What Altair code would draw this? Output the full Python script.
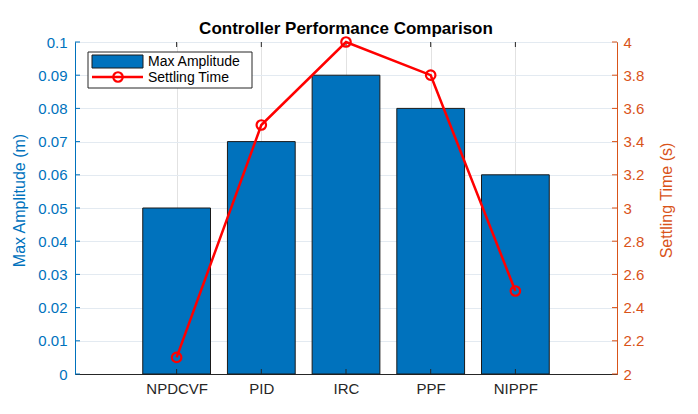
import altair as alt
import pandas as pd

categories = ["NPDCVF", "PID", "IRC", "PPF", "NIPPF"]
positions = [1, 2, 3, 4, 5]
max_amplitude = [0.05, 0.07, 0.09, 0.08, 0.06]
settling_time = [2.1, 3.5, 4.0, 3.8, 2.5]
left_ticks = [0, 0.01, 0.02, 0.03, 0.04, 0.05, 0.06, 0.07, 0.08, 0.09, 0.1]
right_ticks = [2.0, 2.2, 2.4, 2.6, 2.8, 3.0, 3.2, 3.4, 3.6, 3.8, 4.0]
legend_labels = ["Max Amplitude", "Settling Time"]

W, H = 542, 332
BLUE = "#0072BD"
ORANGE = "#D95319"
RED = "#FF0000"
DARK = "#262626"
FONT = "Liberation Sans"

df = pd.DataFrame({"cat": categories, "pos": positions,
                   "amp": max_amplitude, "st": settling_time})
one = pd.DataFrame({"k": [0]})

label_expr = "[" + ",".join(["''"] + [f"'{c}'" for c in categories]) + "][datum.value]"

xscale = alt.Scale(domain=[-0.2, 6.2], nice=False, zero=False)
xaxis = alt.Axis(values=positions, labelExpr=label_expr, title=None, grid=True,
                 gridColor="#e2e2e2", ticks=False, tickSize=0, labelPadding=7,
                 domainColor=DARK, labelColor=DARK, labelFontSize=15, labelFont=FONT)

yl_scale = alt.Scale(domain=[0, 0.1], nice=False, zero=False)
yl_axis = alt.Axis(values=left_ticks, format="~g", title="Max Amplitude (m)", orient="left",
                   grid=True, gridColor="#e3eaf1", ticks=False, tickSize=0, labelPadding=8,
                   domainColor=BLUE, labelColor=BLUE, titleColor=BLUE, labelFontSize=15,
                   labelFont=FONT, titleFont=FONT, titleFontSize=16, titleFontWeight="normal",
                   titleAngle=270, titleX=-56, titleY=158, titleAlign="center",
                   titleBaseline="middle")

yr_scale = alt.Scale(domain=[2, 4], nice=False, zero=False)
yr_axis = alt.Axis(values=right_ticks, format="~g", title="Settling Time (s)", orient="right",
                   grid=False, ticks=False, tickSize=0, labelPadding=6,
                   domainColor=ORANGE, labelColor=ORANGE, titleColor=ORANGE, labelFontSize=15,
                   labelFont=FONT, titleFont=FONT, titleFontSize=16, titleFontWeight="normal",
                   titleAngle=270, titleX=49, titleY=158, titleAlign="center",
                   titleBaseline="middle")

bars = alt.Chart(df).transform_calculate(
    x0="datum.pos - 0.4", x1="datum.pos + 0.4"
).mark_bar(color=BLUE, stroke="#1a1a1a", strokeWidth=1).encode(
    x=alt.X("x0:Q", scale=xscale, axis=xaxis),
    x2="x1:Q",
    y=alt.Y("amp:Q", scale=yl_scale, axis=yl_axis),
    y2=alt.datum(0),
)

lticks = alt.Chart(pd.DataFrame({"v": left_ticks})).mark_rule(color=BLUE, strokeWidth=1).encode(
    y=alt.Y("v:Q", scale=yl_scale, axis=yl_axis),
    x=alt.value(0), x2=alt.value(5),
)

xticks_b = alt.Chart(df).mark_rule(color=DARK, strokeWidth=1).encode(
    x=alt.X("pos:Q", scale=xscale, axis=xaxis),
    y=alt.value(H - 5), y2=alt.value(H),
)
xticks_t = alt.Chart(df).mark_rule(color=DARK, strokeWidth=1).encode(
    x=alt.X("pos:Q", scale=xscale, axis=xaxis),
    y=alt.value(0), y2=alt.value(5),
)

left_group = alt.layer(bars, lticks, xticks_b, xticks_t)

line = alt.Chart(df).mark_line(color=RED, strokeWidth=2.5).encode(
    x=alt.X("pos:Q", scale=xscale, axis=xaxis),
    y=alt.Y("st:Q", scale=yr_scale, axis=yr_axis),
)
pts = alt.Chart(df).mark_point(shape="circle", filled=False, color=RED, strokeWidth=2.2,
                               size=90, opacity=1).encode(
    x=alt.X("pos:Q", scale=xscale, axis=xaxis),
    y=alt.Y("st:Q", scale=yr_scale, axis=yr_axis),
)
rticks = alt.Chart(pd.DataFrame({"v": right_ticks})).mark_rule(color=ORANGE, strokeWidth=1).encode(
    y=alt.Y("v:Q", scale=yr_scale, axis=yr_axis),
    x=alt.value(W - 5), x2=alt.value(W),
)

right_group = alt.layer(line, pts, rticks)

leg_box = alt.Chart(one).mark_rect(fill="white", stroke=DARK, strokeWidth=1).encode(
    x=alt.value(13), x2=alt.value(177), y=alt.value(10), y2=alt.value(46))
leg_swatch = alt.Chart(one).mark_rect(fill=BLUE, stroke="#1a1a1a", strokeWidth=1).encode(
    x=alt.value(17), x2=alt.value(68), y=alt.value(13), y2=alt.value(26))
leg_line = alt.Chart(one).mark_rule(color=RED, strokeWidth=2.5).encode(
    x=alt.value(17), x2=alt.value(68), y=alt.value(35))
leg_pt = alt.Chart(one).mark_point(shape="circle", filled=False, color=RED, strokeWidth=2.2,
                                   size=90, opacity=1).encode(x=alt.value(43), y=alt.value(35))
leg_t1 = alt.Chart(one).mark_text(align="left", baseline="middle", fontSize=14, font=FONT,
                                  color="black").encode(
    x=alt.value(73), y=alt.value(19.5), text=alt.value(legend_labels[0]))
leg_t2 = alt.Chart(one).mark_text(align="left", baseline="middle", fontSize=14, font=FONT,
                                  color="black").encode(
    x=alt.value(73), y=alt.value(36), text=alt.value(legend_labels[1]))

chart = alt.layer(
    left_group, right_group, leg_box, leg_swatch, leg_line, leg_pt, leg_t1, leg_t2
).resolve_scale(y="independent").properties(
    width=W, height=H,
    title=alt.Title("Controller Performance Comparison", fontSize=17, fontWeight="bold",
                    font=FONT, color="black", offset=5, dy=10, anchor="middle"),
    padding={"left": 67, "top": 34, "right": 73, "bottom": 32},
    autosize="none",
    background="white",
).configure_view(stroke=DARK, strokeWidth=1)

chart.save("out.html", embed_options={"renderer": "svg", "actions": False})
